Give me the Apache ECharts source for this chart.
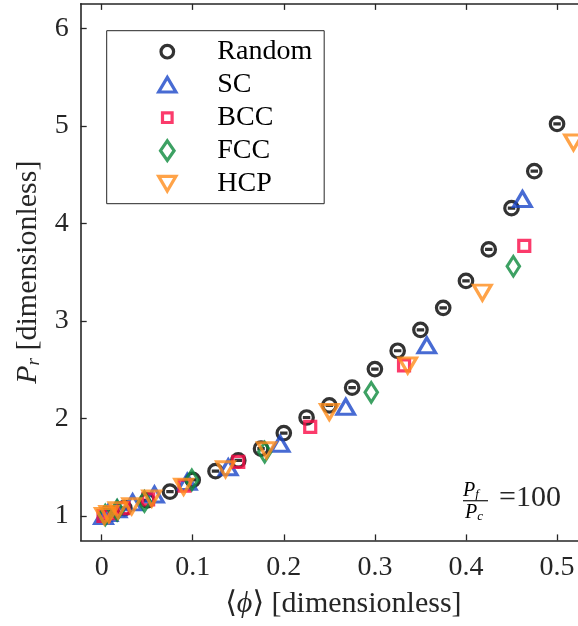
<!DOCTYPE html>
<html>
<head>
<meta charset="utf-8">
<script src="https://cdn.jsdelivr.net/npm/echarts@6/dist/echarts.min.js"></script>
<style>
  html, body { margin: 0; padding: 0; background: #fff; }
  #chart { width: 578px; height: 626px; }
</style>
</head>
<body>
<div id="chart"></div>
<script>
// Mean packing fraction <phi> and dimensionless pressure P_r per arrangement
const phiRandom = [0.025, 0.05, 0.075, 0.1, 0.125, 0.15, 0.175, 0.2, 0.225, 0.25, 0.275, 0.3, 0.325, 0.35, 0.375, 0.4, 0.425, 0.45, 0.475, 0.5];
const prRandom  = [1.08, 1.16, 1.25, 1.37, 1.46, 1.57, 1.69, 1.85, 2.01, 2.135, 2.316, 2.506, 2.694, 2.909, 3.134, 3.41, 3.733, 4.156, 4.535, 5.02];

const phiSC = [0.002, 0.007, 0.017, 0.034, 0.058, 0.094, 0.139, 0.196, 0.268, 0.357, 0.462];
const prSC  = [1.00, 1.03, 1.07, 1.14, 1.22, 1.35, 1.50, 1.74, 2.12, 2.75, 4.25];

const phiBCC = [0.002, 0.009, 0.024, 0.051, 0.091, 0.150, 0.229, 0.332, 0.464];
const prBCC  = [1.00, 1.03, 1.08, 1.17, 1.31, 1.555, 1.913, 2.544, 3.77];

const phiFCC = [0.004, 0.017, 0.047, 0.099, 0.179, 0.296, 0.452];
const prFCC  = [1.01, 1.06, 1.15, 1.37, 1.655, 2.268, 3.56];

const phiHCP = [0.003, 0.008, 0.018, 0.033, 0.055, 0.090, 0.136, 0.181, 0.250, 0.336, 0.418, 0.518];
const prHCP  = [1.00, 1.02, 1.06, 1.10, 1.18, 1.30, 1.48, 1.675, 2.066, 2.544, 3.29, 4.83];

const xTicks = [0, 0.1, 0.2, 0.3, 0.4, 0.5];
const yTicks = [1, 2, 3, 4, 5, 6];

const seriesNames = ['Random', 'SC', 'BCC', 'FCC', 'HCP'];
const pressureRatio = '100';

const zip = (xs, ys) => xs.map((x, i) => [x, ys[i]]);

const FONT = '"Liberation Serif", "DejaVu Serif", serif';
const AXIS = '#262626';
const COLORS = {
  Random: '#000000',
  SC: '#1a46c8',
  BCC: '#fa0a46',
  FCC: '#0c8a3c',
  HCP: '#ff8c1a'
};
const STROKE = 3.2;

// legend glyphs share a 24x24 frame so their relative sizes are kept
const FRAME = 'M-12,-12M12,12';
const legendIcons = {
  Random: 'path://' + FRAME + 'M6.3,0A6.3,6.3,0,1,1,-6.3,0A6.3,6.3,0,1,1,6.3,0Z',
  SC: 'path://' + FRAME + 'M0,-7.3L8.6,7.3L-8.6,7.3Z',
  BCC: 'path://' + FRAME + 'M-4.8,-4.8L4.8,-4.8L4.8,4.8L-4.8,4.8Z',
  FCC: 'path://' + FRAME + 'M0,-9.8L6.8,0L0,9.8L-6.8,0Z',
  HCP: 'path://' + FRAME + 'M0,7.3L8.6,-7.3L-8.6,-7.3Z'
};

// ring with a short bar inside (error bar) for the random packings
const ringSymbol = 'path://M1,0A1,1,0,1,1,-1,0A1,1,0,1,1,1,0ZM-0.55,0L0.55,0';

function hollow(name, data, symbol, size, extra) {
  return Object.assign({
    name: name,
    type: 'scatter',
    data: data,
    symbol: symbol,
    symbolSize: size,
    itemStyle: { color: 'transparent', borderColor: COLORS[name], borderWidth: STROKE },
    emphasis: { disabled: true }
  }, extra || {});
}

const chart = echarts.init(document.getElementById('chart'), null, { renderer: 'canvas' });

const rich = {
  i: { fontFamily: FONT, fontStyle: 'italic', fontSize: 30, color: AXIS },
  s: { fontFamily: FONT, fontStyle: 'italic', fontSize: 19, color: AXIS, padding: [12, 0, 0, 0] },
  t: { fontFamily: FONT, fontSize: 30, color: AXIS }
};

chart.setOption({
  animation: false,
  backgroundColor: '#fff',
  grid: { left: 80.7, top: 3.9, right: 0, height: 536.5, containLabel: false },
  xAxis: [{
    type: 'value',
    min: -0.023,
    max: 0.523,
    position: 'bottom',
    axisLine: { show: true, onZero: false, lineStyle: { color: AXIS, width: 1.6 } },
    axisTick: { show: true, inside: true, length: 6, customValues: xTicks, lineStyle: { color: AXIS, width: 1.3 } },
    axisLabel: { customValues: xTicks, fontFamily: FONT, fontSize: 28, color: AXIS, margin: 13,
                 formatter: v => String(Math.round(v * 10) / 10) },
    splitLine: { show: false },
    name: '{t|⟨}{i|ϕ}{t|⟩ [dimensionless]}',
    nameLocation: 'middle',
    nameGap: 49,
    nameTextStyle: { rich: rich, fontFamily: FONT, fontSize: 30, color: AXIS, padding: [0, 0, 0, 28] }
  }, {
    type: 'value',
    min: -0.023,
    max: 0.523,
    position: 'top',
    axisLine: { show: true, onZero: false, lineStyle: { color: AXIS, width: 1.6 } },
    axisTick: { show: true, inside: true, length: 6, customValues: xTicks, lineStyle: { color: AXIS, width: 1.3 } },
    axisLabel: { show: false },
    splitLine: { show: false }
  }],
  yAxis: [{
    type: 'value',
    min: 0.75,
    max: 6.25,
    position: 'left',
    axisLine: { show: true, onZero: false, lineStyle: { color: AXIS, width: 1.6 } },
    axisTick: { show: true, inside: true, length: 6, customValues: yTicks, lineStyle: { color: AXIS, width: 1.3 } },
    axisLabel: { customValues: yTicks, fontFamily: FONT, fontSize: 28, color: AXIS, margin: 12 },
    splitLine: { show: false },
    name: '{i|P}{s|r}{t| [dimensionless]}',
    nameLocation: 'middle',
    nameGap: 34,
    nameTextStyle: { rich: rich, fontFamily: FONT, fontSize: 30, color: AXIS }
  }],
  legend: {
    orient: 'vertical',
    left: 106.7,
    top: 30.7,
    padding: [7, 12, 6, 47],
    itemWidth: 90,
    itemHeight: 24,
    itemGap: 5,
    symbolKeepAspect: true,
    backgroundColor: '#fff',
    borderColor: AXIS,
    borderWidth: 1,
    borderRadius: 0,
    selectedMode: false,
    itemStyle: { borderWidth: STROKE },
    textStyle: { fontFamily: FONT, fontSize: 28, color: '#000', lineHeight: 28 },
    data: seriesNames.map(n => ({ name: n, icon: legendIcons[n] }))
  },
  graphic: [
    { type: 'text', x: 463, y: 480,
      style: { text: '{i|P}{s|f}', rich: {
        i: { fontFamily: FONT, fontStyle: 'italic', fontSize: 20, color: AXIS },
        s: { fontFamily: FONT, fontStyle: 'italic', fontSize: 13, color: AXIS, padding: [8, 0, 0, 0] } } } },
    { type: 'line', shape: { x1: 463, y1: 500.7, x2: 488, y2: 500.7 },
      style: { stroke: AXIS, lineWidth: 1.3 } },
    { type: 'text', x: 465, y: 502,
      style: { text: '{i|P}{s|c}', rich: {
        i: { fontFamily: FONT, fontStyle: 'italic', fontSize: 20, color: AXIS },
        s: { fontFamily: FONT, fontStyle: 'italic', fontSize: 13, color: AXIS, padding: [8, 0, 0, 0] } } } },
    { type: 'text', x: 499, y: 498,
      style: { text: '=' + pressureRatio, font: '30px ' + FONT, fill: AXIS, verticalAlign: 'middle' } }
  ],
  series: [
    hollow('Random', zip(phiRandom, prRandom), ringSymbol, 13.5),
    hollow('SC', zip(phiSC, prSC), 'triangle', [17.5, 15]),
    hollow('BCC', zip(phiBCC, prBCC), 'rect', 11),
    hollow('FCC', zip(phiFCC, prFCC), 'diamond', [12.5, 19.5]),
    hollow('HCP', zip(phiHCP, prHCP), 'triangle', [17.5, 15], { symbolRotate: 180 })
  ]
});
</script>
</body>
</html>
